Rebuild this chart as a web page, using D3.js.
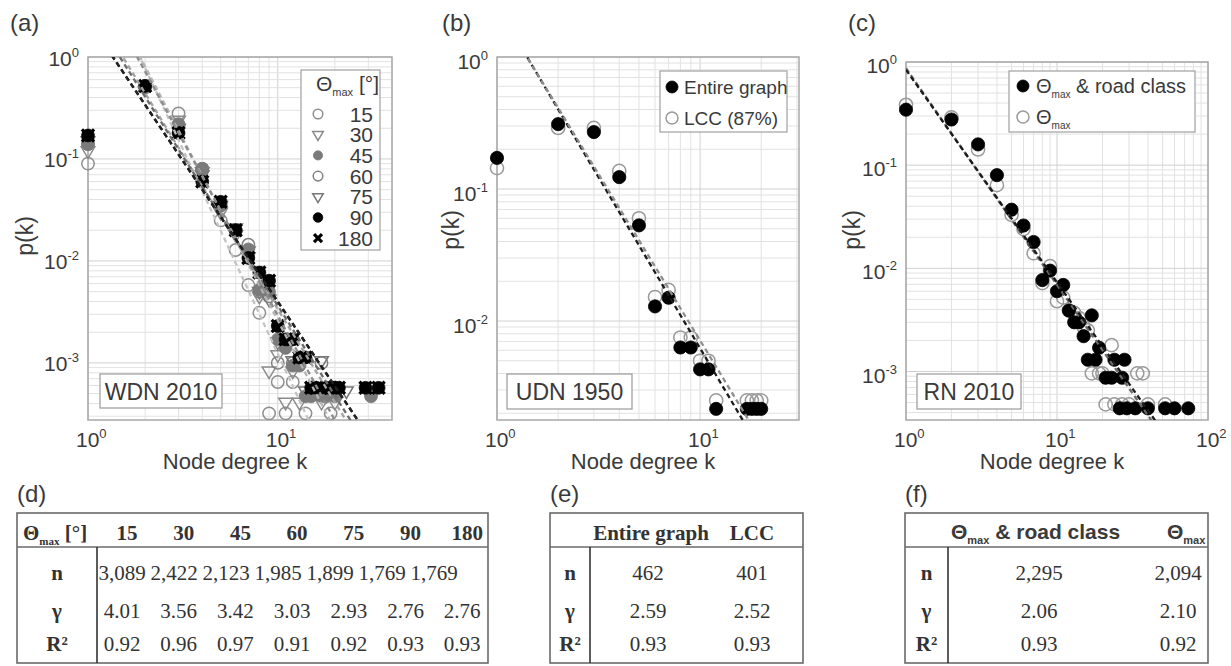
<!DOCTYPE html>
<html>
<head>
<meta charset="utf-8">
<script src="https://cdn.jsdelivr.net/npm/d3@7"></script>
<style>
  body { margin: 0; background: #fff; }
  text { font-family: "Liberation Sans", Arial, sans-serif; fill: #3a3a3a; }
  .serif { font-family: "Liberation Serif", "Times New Roman", serif; fill: #333; }
</style>
</head>
<body>
<svg id="fig" width="1231" height="666"></svg>
<script>
// ---------- data: (a) WDN 2010, one array of [k, p(k)] per theta_max ----------
var wdnLabels = ["15", "30", "45", "60", "75", "90", "180"]
var wdn15 = [[1,0.09],[2,0.50],[3,0.28],[4,0.08],[5,0.025],[6,0.0128],[7,0.0058],[8,0.0031],
  [9,0.00032],[10,0.00065],[11,0.00032],[12,0.00065],[14,0.00032],[19,0.00032]]
var wdn30 = [[1,0.12],[2,0.52],[3,0.24],[4,0.075],[5,0.03],[6,0.018],[7,0.011],[8,0.0045],
  [9,0.00083],[10,0.0012],[11,0.00041],[12,0.00083],[13,0.00041],[17,0.00041],[20,0.00041]]
var wdn45 = [[1,0.14],[2,0.52],[3,0.22],[4,0.08],[5,0.035],[6,0.02],[7,0.013],[8,0.0052],
  [9,0.005],[10,0.0017],[11,0.0014],[12,0.00094],[13,0.00094],[14,0.00047],[15,0.00047],
  [17,0.00047],[18,0.00047],[20,0.00047],[31,0.00047]]
var wdn60 = [[1,0.14],[2,0.52],[3,0.21],[4,0.08],[5,0.035],[6,0.02],[7,0.0144],[8,0.005],
  [9,0.0045],[10,0.001],[11,0.0015],[12,0.001],[13,0.001],[15,0.0005],[16,0.0005],
  [17,0.001],[19,0.0005],[31,0.0005]]
var wdn75 = [[1,0.15],[2,0.52],[3,0.2],[4,0.07],[5,0.035],[6,0.021],[7,0.0125],[8,0.005],
  [9,0.0042],[10,0.0016],[11,0.0016],[12,0.00105],[13,0.00105],[14,0.00053],[17,0.00105],
  [18,0.00053],[20,0.00053],[23,0.00053]]
var wdn90 = [[1,0.17],[2,0.52],[3,0.18],[4,0.06],[5,0.038],[6,0.02],[7,0.0107],[8,0.0077],
  [9,0.0064],[10,0.0023],[11,0.0017],[12,0.0017],[13,0.00113],[14,0.00113],[15,0.00057],
  [16,0.00057],[18,0.00057],[19,0.00057],[20,0.00057],[21,0.00057],[29,0.00057],[34,0.00057]]
var wdn180 = [[1,0.17],[2,0.52],[3,0.18],[4,0.06],[5,0.038],[6,0.02],[7,0.0107],[8,0.0077],
  [9,0.0064],[10,0.0023],[11,0.0017],[12,0.0017],[13,0.00113],[14,0.00113],[15,0.00057],
  [16,0.00057],[18,0.00057],[19,0.00057],[20,0.00057],[21,0.00057],[29,0.00057],[34,0.00057]]
// fitted power law amplitude C in p = C k^-gamma (gamma from table d)
var wdnFitC = [12.6, 9.5, 7.7, 3.6, 3.1, 2.3, 2.3]

// ---------- data: (b) UDN 1950 ----------
var udnLabels = ["Entire graph", "LCC (87%)"]
var udnEntire = [[1,0.172],[2,0.31],[3,0.27],[4,0.123],[5,0.053],[6,0.0129],[7,0.015],
  [8,0.0063],[9,0.0063],[10,0.0043],[11,0.0043],[12,0.00216],[17,0.00216],[18,0.00216],
  [19,0.00216],[20,0.00216]]
var udnLcc = [[1,0.144],[2,0.29],[3,0.29],[4,0.137],[5,0.06],[6,0.0152],[7,0.0172],
  [8,0.0075],[9,0.0075],[10,0.005],[11,0.005],[12,0.0025],[17,0.0025],[18,0.0025],
  [19,0.0025],[20,0.0025]]
var udnFitC = [2.42, 2.36]

// ---------- data: (c) RN 2010 ----------
var rnRoad = [[1,0.345],[2,0.277],[3,0.159],[4,0.08],[5,0.037],[6,0.026],[7,0.018],[8,0.0077],
  [9,0.0095],[10,0.006],[11,0.0069],[12,0.0039],[13,0.003],[14,0.003],[15,0.0022],[16,0.0013],
  [17,0.0035],[18,0.0013],[19,0.0017],[21,0.00087],[23,0.00087],[24,0.0013],[27,0.00087],
  [28,0.0013],[26,0.00044],[29,0.00044],[33,0.00044],[40,0.00044],[52,0.00044],[60,0.00044],
  [74,0.00044]]
var rnTheta = [[1,0.385],[2,0.29],[3,0.142],[4,0.064],[5,0.033],[6,0.024],[7,0.014],[8,0.0072],
  [9,0.0105],[10,0.0048],[11,0.0052],[12,0.0039],[13,0.0037],[14,0.0033],[15,0.0027],
  [16,0.0025],[17,0.00096],[19,0.00096],[20,0.00096],[23,0.0018],[34,0.00096],[37,0.00096],
  [21,0.00048],[24,0.00048],[27,0.00048],[30,0.00048],[40,0.00048],[52,0.00048]]
var rnFitC = [0.84, 0.87]

// ---------- tables ----------
var tabDHead = ["15", "30", "45", "60", "75", "90", "180"]
var tabDn = ["3,089", "2,422", "2,123", "1,985", "1,899", "1,769", "1,769"]
var tabDgamma = ["4.01", "3.56", "3.42", "3.03", "2.93", "2.76", "2.76"]
var tabDr2 = ["0.92", "0.96", "0.97", "0.91", "0.92", "0.93", "0.93"]
var tabEHead = ["Entire graph", "LCC"]
var tabEn = ["462", "401"]
var tabEgamma = ["2.59", "2.52"]
var tabEr2 = ["0.93", "0.93"]
var tabFn = ["2,295", "2,094"]
var tabFgamma = ["2.06", "2.10"]
var tabFr2 = ["0.93", "0.92"]
var rowNames = ["n", "\u03b3", "R\u00b2"]

var svg = d3.select("#fig")
var DASH = "5,3.5"

function supLabel(sel, exp) {
  sel.text("10")
  sel.append("tspan").attr("dy", -9).attr("font-size", 13).text(exp)
}

function drawPanel(p) {
  var g = svg.append("g")
  var x = d3.scaleLog().domain(p.xDom).range([p.x0, p.x1])
  var y = d3.scaleLog().domain(p.yDom).range([p.y1, p.y0])

  g.append("clipPath").attr("id", p.id)
    .append("rect").attr("x", p.x0).attr("y", p.y0)
    .attr("width", p.x1 - p.x0).attr("height", p.y1 - p.y0)

  g.append("rect").attr("x", p.x0).attr("y", p.y0)
    .attr("width", p.x1 - p.x0).attr("height", p.y1 - p.y0).attr("fill", "#fff")

  function isMajor(v) { return Math.abs(Math.log10(v) - Math.round(Math.log10(v))) < 1e-6 }

  g.selectAll(".vg").data(x.ticks()).enter().append("line")
    .attr("x1", function(d) { return x(d) }).attr("x2", function(d) { return x(d) })
    .attr("y1", p.y0).attr("y2", p.y1)
    .attr("stroke", function(d) { return isMajor(d) ? "#d0d0d0" : "#e2e2e2" })
    .attr("stroke-width", 1)
  g.selectAll(".hg").data(y.ticks()).enter().append("line")
    .attr("y1", function(d) { return y(d) }).attr("y2", function(d) { return y(d) })
    .attr("x1", p.x0).attr("x2", p.x1)
    .attr("stroke", function(d) { return isMajor(d) ? "#d0d0d0" : "#e2e2e2" })
    .attr("stroke-width", 1)

  g.append("rect").attr("x", p.x0).attr("y", p.y0)
    .attr("width", p.x1 - p.x0).attr("height", p.y1 - p.y0)
    .attr("fill", "none").attr("stroke", "#a8a8a8").attr("stroke-width", 1.5)

  g.selectAll(".yl").data(p.yTicks).enter().append("text")
    .attr("x", p.x0 - 9).attr("y", function(d) { return y(d) + p.yLabDy })
    .attr("text-anchor", "end").attr("font-size", 21)
    .each(function(d) { supLabel(d3.select(this), Math.round(Math.log10(d))) })
  g.selectAll(".xl").data(p.xTicks).enter().append("text")
    .attr("x", function(d) { return x(d) - 12 }).attr("y", p.y1 + 27)
    .attr("font-size", 21)
    .each(function(d) { supLabel(d3.select(this), Math.round(Math.log10(d))) })

  g.append("text").attr("x", (p.x0 + p.x1) / 2 - 5).attr("y", 469)
    .attr("text-anchor", "middle").attr("font-size", 22).text("Node degree k")
  g.append("text").attr("transform", "translate(" + p.yTitleX + "," + p.yTitleY + ") rotate(-90)")
    .attr("text-anchor", "middle").attr("font-size", 23).text("p(k)")
  g.append("text").attr("x", p.tagX).attr("y", 31).attr("font-size", 24)
    .attr("fill", "#222").text(p.tag)

  return { g: g, x: x, y: y, plot: g.append("g"), lines: g.append("g").attr("clip-path", "url(#" + p.id + ")") }
}

function drawMarks(sel, pts, st, x, y) {
  var r = st.r
  if (st.type == "x") {
    var s = r * 0.95
    sel.selectAll(null).data(pts).enter().append("path")
      .attr("d", function(d) {
        var cx = x(d[0]), cy = y(d[1])
        return "M" + (cx - s) + "," + (cy - s) + "L" + (cx + s) + "," + (cy + s) +
          "M" + (cx - s) + "," + (cy + s) + "L" + (cx + s) + "," + (cy - s)
      })
      .attr("stroke", st.color).attr("stroke-width", 3.2).attr("fill", "none")
  } else if (st.type == "tri") {
    sel.selectAll(null).data(pts).enter().append("path")
      .attr("d", function(d) {
        var cx = x(d[0]), cy = y(d[1])
        return "M" + (cx - r * 1.1) + "," + (cy - r * 0.65) + "L" + (cx + r * 1.1) + "," + (cy - r * 0.65) +
          "L" + cx + "," + (cy + r * 1.2) + "Z"
      })
      .attr("fill", "none").attr("stroke", st.color).attr("stroke-width", 1.5)
  } else {
    sel.selectAll(null).data(pts).enter().append("circle")
      .attr("cx", function(d) { return x(d[0]) }).attr("cy", function(d) { return y(d[1]) })
      .attr("r", r)
      .attr("fill", st.type == "filled" ? st.color : "none")
      .attr("stroke", st.color).attr("stroke-width", st.type == "filled" ? 0.8 : 1.5)
  }
}

function drawFit(sel, dom, gamma, c, color, x, y) {
  sel.append("line")
    .attr("x1", x(dom[0])).attr("y1", y(c * Math.pow(dom[0], -gamma)))
    .attr("x2", x(dom[1])).attr("y2", y(c * Math.pow(dom[1], -gamma)))
    .attr("stroke", color).attr("stroke-width", 2.3).attr("stroke-dasharray", DASH)
}

function labelBox(x0, y0, w, h, txt) {
  svg.append("rect").attr("x", x0).attr("y", y0).attr("width", w).attr("height", h)
    .attr("fill", "#fff").attr("stroke", "#9a9a9a").attr("stroke-width", 1.2)
  svg.append("text").attr("x", x0 + w / 2).attr("y", y0 + h / 2 + 8.5)
    .attr("text-anchor", "middle").attr("font-size", 23).attr("fill", "#444").text(txt)
}

function thetaMax(sel, size, subSize, rest) {
  sel.text("\u0398")
  sel.append("tspan").attr("font-size", subSize).attr("dy", 5).text("max")
  if (rest) sel.append("tspan").attr("font-size", size).attr("dy", -5).text(rest)
}

// ---------- panel (a) ----------
var pa = drawPanel({ id: "ca", tag: "(a)", tagX: 10, x0: 88, x1: 392, y0: 57, y1: 420,
  xDom: [1, 40], yDom: [Math.pow(10, -3.56), 1], xTicks: [1, 10], yTicks: [1, 0.1, 0.01, 0.001],
  yTitleX: 33, yTitleY: 236, yLabDy: 8.5 })
var wdnData = [wdn15, wdn30, wdn45, wdn60, wdn75, wdn90, wdn180]
var wdnStyle = [
  { type: "open", color: "#8e8e8e", r: 6.2, leg: 4.8, line: "#c4c4c4" },
  { type: "tri", color: "#8a8a8a", r: 6.2, leg: 4.8, line: "#b4b4b4" },
  { type: "filled", color: "#7b7b7b", r: 6.4, leg: 4.6, line: "#8c8c8c" },
  { type: "open", color: "#808080", r: 6.2, leg: 4.8, line: "#a4a4a4" },
  { type: "tri", color: "#777", r: 6.2, leg: 4.8, line: "#6c6c6c" },
  { type: "filled", color: "#000", r: 6.4, leg: 4.8, line: "#222" },
  { type: "x", color: "#000", r: 6.4, leg: 4.2, line: "#000" }
]
var drawOrder = [0, 1, 3, 4, 2, 6, 5]
drawOrder.forEach(function(i) { drawMarks(pa.plot, wdnData[i], wdnStyle[i], pa.x, pa.y) })
drawOrder.forEach(function(i) {
  drawFit(pa.lines, [1, 40], +tabDgamma[i], wdnFitC[i], wdnStyle[i].line, pa.x, pa.y)
})
// legend (a)
svg.append("rect").attr("x", 301).attr("y", 70).attr("width", 79).attr("height", 180)
  .attr("fill", "#fff").attr("stroke", "#a0a0a0").attr("stroke-width", 1.2)
thetaMax(svg.append("text").attr("x", 316).attr("y", 91).attr("font-size", 21), 21, 11, " [\u00b0]")
wdnLabels.forEach(function(lab, i) {
  var cy = 114 + i * 20.7
  var st = Object.assign({}, wdnStyle[i], { r: wdnStyle[i].leg })
  drawMarks(svg, [[0, 0]], st, function() { return 318 }, function() { return cy })
  svg.append("text").attr("x", 373).attr("y", cy + 7.5).attr("text-anchor", "end")
    .attr("font-size", 21).text(lab)
})
labelBox(100, 374, 122, 34, "WDN 2010")

// ---------- panel (b) ----------
var pb = drawPanel({ id: "cb", tag: "(b)", tagX: 442, x0: 497, x1: 799, y0: 57, y1: 420,
  xDom: [1, 30.7], yDom: [Math.pow(10, -2.75), 1], xTicks: [1, 10], yTicks: [1, 0.1, 0.01],
  yTitleX: 459, yTitleY: 230, yLabDy: 12 })
var udnStyle = [{ type: "filled", color: "#000", r: 6.6, line: "#1a1a1a" },
                { type: "open", color: "#9a9a9a", r: 6.6, line: "#8e8e8e" }]
drawMarks(pb.plot, udnLcc, udnStyle[1], pb.x, pb.y)
drawMarks(pb.plot, udnEntire, udnStyle[0], pb.x, pb.y)
drawFit(pb.lines, [1, 30.7], +tabEgamma[0], udnFitC[0], udnStyle[0].line, pb.x, pb.y)
drawFit(pb.lines, [1, 30.7], +tabEgamma[1], udnFitC[1], udnStyle[1].line, pb.x, pb.y)
svg.append("rect").attr("x", 660).attr("y", 71).attr("width", 127).attr("height", 61)
  .attr("fill", "#fff").attr("stroke", "#a0a0a0").attr("stroke-width", 1.2)
udnLabels.forEach(function(lab, i) {
  var cy = 87 + i * 31
  drawMarks(svg, [[0, 0]], Object.assign({}, udnStyle[i], { r: 6 }), function() { return 672 }, function() { return cy })
  svg.append("text").attr("x", 684).attr("y", cy + 7).attr("font-size", 19).text(lab)
})
labelBox(507, 374, 125, 35, "UDN 1950")

// ---------- panel (c) ----------
var pc = drawPanel({ id: "cc", tag: "(c)", tagX: 848, x0: 906, x1: 1208, y0: 62, y1: 420,
  xDom: [1, 100], yDom: [Math.pow(10, -3.47), 1], xTicks: [1, 10, 100], yTicks: [1, 0.1, 0.01, 0.001],
  yTitleX: 860, yTitleY: 230, yLabDy: 11 })
var rnStyle = [{ type: "filled", color: "#000", r: 6.6, line: "#1a1a1a" },
               { type: "open", color: "#9a9a9a", r: 6.6, line: "#6a6a6a" }]
drawMarks(pc.plot, rnTheta, rnStyle[1], pc.x, pc.y)
drawMarks(pc.plot, rnRoad, rnStyle[0], pc.x, pc.y)
drawFit(pc.lines, [1, 100], +tabFgamma[1], rnFitC[1], rnStyle[1].line, pc.x, pc.y)
drawFit(pc.lines, [1, 100], +tabFgamma[0], rnFitC[0], rnStyle[0].line, pc.x, pc.y)
svg.append("rect").attr("x", 1009).attr("y", 71).attr("width", 186).attr("height", 61)
  .attr("fill", "#fff").attr("stroke", "#a0a0a0").attr("stroke-width", 1.2)
;[" & road class", ""].forEach(function(rest, i) {
  var cy = 86 + i * 31
  drawMarks(svg, [[0, 0]], Object.assign({}, rnStyle[i], { r: 6 }), function() { return 1023 }, function() { return cy })
  thetaMax(svg.append("text").attr("x", 1036).attr("y", cy + 7).attr("font-size", 20), 20, 10, rest)
})
labelBox(917, 374, 104, 35, "RN 2010")

// ---------- tables ----------
function drawTable(t) {
  var g = svg.append("g")
  g.append("text").attr("x", t.x0).attr("y", 502).attr("font-size", 24).attr("fill", "#222").text(t.tag)
  g.append("rect").attr("x", t.x0).attr("y", 513).attr("width", t.x1 - t.x0).attr("height", 150)
    .attr("fill", "#fff").attr("stroke", "#6a6a6a").attr("stroke-width", 1.6)
  g.append("line").attr("x1", t.x0).attr("x2", t.x1).attr("y1", 547).attr("y2", 547)
    .attr("stroke", "#6a6a6a").attr("stroke-width", 1.6)
  g.append("line").attr("x1", t.xs).attr("x2", t.xs).attr("y1", 547).attr("y2", 663)
    .attr("stroke", "#333").attr("stroke-width", 1.6)
  var rows = [t.n, t.gamma, t.r2], base = [580, 618, 651]
  rowNames.forEach(function(nm, r) {
    g.append("text").attr("class", "serif").attr("x", (t.x0 + t.xs) / 2).attr("y", base[r])
      .attr("text-anchor", "middle").attr("font-size", 21).attr("font-weight", "bold").text(nm)
    g.selectAll(null).data(rows[r]).enter().append("text").attr("class", "serif")
      .attr("x", function(d, i) { return t.colX(i, r) }).attr("y", base[r])
      .attr("text-anchor", "middle").attr("font-size", 21).text(function(d) { return d })
  })
  return g
}

var gd = drawTable({ tag: "(d)", x0: 17, x1: 488, xs: 97, n: tabDn, gamma: tabDgamma, r2: tabDr2,
  colX: function(i, r) { return r == 0 ? 122 + 52 * i : 122 + 56.7 * i } })
thetaMax(gd.append("text").attr("class", "serif").attr("x", 23).attr("y", 540)
  .attr("font-size", 21).attr("font-weight", "bold"), 21, 11, " [\u00b0]")
gd.selectAll(null).data(tabDHead).enter().append("text").attr("class", "serif")
  .attr("x", function(d, i) { return 127 + 56.7 * i }).attr("y", 540)
  .attr("text-anchor", "middle").attr("font-size", 21).attr("font-weight", "bold")
  .text(function(d) { return d })

var ge = drawTable({ tag: "(e)", x0: 550, x1: 803, xs: 590, n: tabEn, gamma: tabEgamma, r2: tabEr2,
  colX: function(i) { return [648, 752][i] } })
ge.selectAll(null).data(tabEHead).enter().append("text").attr("class", "serif")
  .attr("x", function(d, i) { return [651, 752][i] }).attr("y", 540)
  .attr("text-anchor", "middle").attr("font-size", 21).attr("font-weight", "bold")
  .text(function(d) { return d })

var gf = drawTable({ tag: "(f)", x0: 905, x1: 1208, xs: 948, n: tabFn, gamma: tabFgamma, r2: tabFr2,
  colX: function(i) { return [1039, 1178][i] } })
thetaMax(gf.append("text").attr("x", 951).attr("y", 539).attr("font-size", 21)
  .attr("font-weight", "bold"), 21, 11, " & road class")
thetaMax(gf.append("text").attr("x", 1167).attr("y", 539).attr("font-size", 21)
  .attr("font-weight", "bold"), 21, 11, "")
</script>
</body>
</html>
